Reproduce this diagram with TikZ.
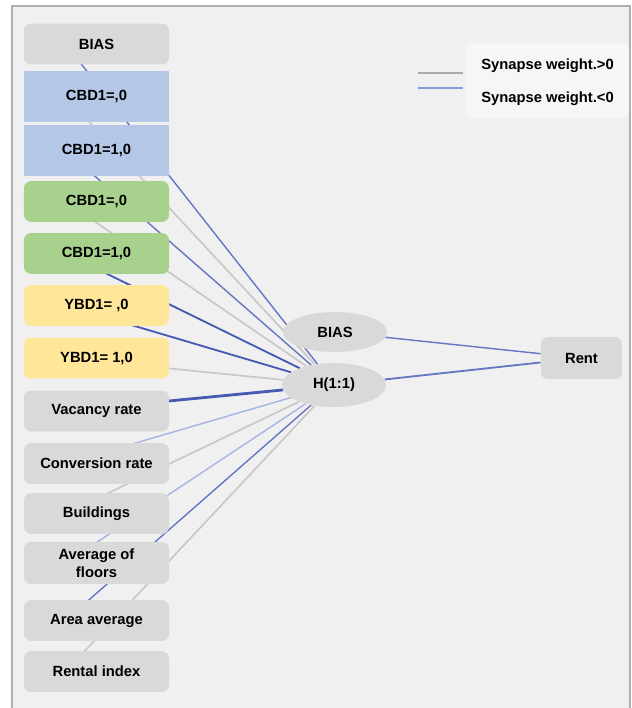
\documentclass[tikz,border=0pt]{standalone}
\usepackage{fontspec}
\setmainfont{Liberation Sans}
\usetikzlibrary{shapes.geometric, positioning}
\definecolor{bggray}{RGB}{240,240,240}
\definecolor{framegray}{RGB}{175,175,175}
\definecolor{nodegray}{RGB}{217,217,217}
\definecolor{catblue}{RGB}{180,199,231}
\definecolor{catgreen}{RGB}{169,209,142}
\definecolor{catyellow}{RGB}{255,230,153}
\definecolor{posline}{RGB}{200,200,200}
\definecolor{negline}{RGB}{100,118,196}
\definecolor{negdeep}{RGB}{70,90,180}
\definecolor{negpale}{RGB}{165,180,228}
\definecolor{legendbg}{RGB}{246,246,246}
\definecolor{legblue}{RGB}{130,160,220}
\pgfdeclarelayer{bg}
\pgfdeclarelayer{wires}
\pgfsetlayers{bg,wires,main}
\tikzset{
  inbox/.style={rectangle, fill=nodegray, rounded corners=5pt,
    minimum width=3.625cm, minimum height=1.02cm, inner sep=1pt,
    align=center, font=\fontsize{10.5}{13}\selectfont\bfseries},
  catbox/.style={inbox, sharp corners, minimum height=1.27cm},
  hidnode/.style={ellipse, fill=nodegray, minimum width=2.6cm,
    minimum height=1.0cm, inner sep=0pt,
    font=\fontsize{10.5}{13}\selectfont\bfseries},
  outbox/.style={inbox, minimum width=2.03cm, minimum height=1.05cm},
  posw/.style={draw=posline, line width=1.2pt},
  negw/.style={draw=negline, line width=1pt},
  negdark/.style={draw=negdeep, line width=1.3pt},
  negbold/.style={draw=negdeep, line width=2pt},
  negthin/.style={draw=negpale, line width=1pt},
  legtext/.style={anchor=west, inner sep=0pt,
    font=\fontsize{10.5}{13}\selectfont\bfseries}
}

\begin{document}
\begin{tikzpicture}[x=0.025cm, y=-0.025cm]
  \useasboundingbox (0,0) rectangle (631,708);
  \begin{pgfonlayer}{bg}
    \fill[bggray] (12,6) rectangle (630,708);
    \draw[framegray, line width=1.2pt] (12,708) -- (12,6) -- (630,6) -- (630,708);
    \fill[legendbg, rounded corners=4pt] (465,43) rectangle (629,118);
  \end{pgfonlayer}

  % input layer
  \node[inbox] (in1) at (96.5,44) {BIAS};
  \node[catbox, fill=catblue] (in2) at (96.5,96.5) {CBD1=,0};
  \node[catbox, fill=catblue] (in3) at (96.5,150.5) {CBD1=1,0};
  \node[inbox, fill=catgreen] (in4) at (96.5,201.5) {CBD1=,0};
  \node[inbox, fill=catgreen] (in5) at (96.5,253.5) {CBD1=1,0};
  \node[inbox, fill=catyellow] (in6) at (96.5,305.5) {YBD1= ,0};
  \node[inbox, fill=catyellow] (in7) at (96.5,358) {YBD1= 1,0};
  \node[inbox] (in8) at (96.5,411) {Vacancy rate};
  \node[inbox] (in9) at (96.5,463.5) {Conversion rate};
  \node[inbox] (in10) at (96.5,513.5) {Buildings};
  \node[inbox, minimum height=1.05cm] (in11) at (96.5,563) {Average of\\floors};
  \node[inbox] (in12) at (96.5,620.5) {Area average};
  \node[inbox] (in13) at (96.5,671.5) {Rental index};

  % hidden and output layer
  \node[hidnode] (hbias) at (335,332) {BIAS};
  \node[hidnode, minimum height=1.1cm] (hid) at (334,385) {H(1:1)};
  \node[outbox] (rent) at (581.5,358) {Rent};

  \begin{pgfonlayer}{wires}
    \foreach \i/\w in {1/negw, 2/posw, 3/negw, 4/posw, 5/negdark, 6/negdark,
                       7/posw, 8/negbold, 9/negthin, 10/posw, 11/negthin,
                       12/negw, 13/posw}
      \draw[\w] ([xshift=-0.775cm]in\i.center) -- (hid);
    \draw[negw] (hbias) -- (rent);
    \draw[negw, line width=1.3pt] (hid) -- (rent);
  \end{pgfonlayer}

  % legend
  \coordinate (legpos) at (418,73);
  \coordinate (legneg) at (418,88);
  \draw[posline!85!black, line width=1.2pt] (legpos) -- ++(45,0);
  \draw[legblue, line width=1.5pt] (legneg) -- ++(45,0);
  \node[legtext] (legpostext) at (481,66) {Synapse weight.>0};
  \node[legtext] (legnegtext) at (481,99) {Synapse weight.<0};
\end{tikzpicture}
\end{document}
